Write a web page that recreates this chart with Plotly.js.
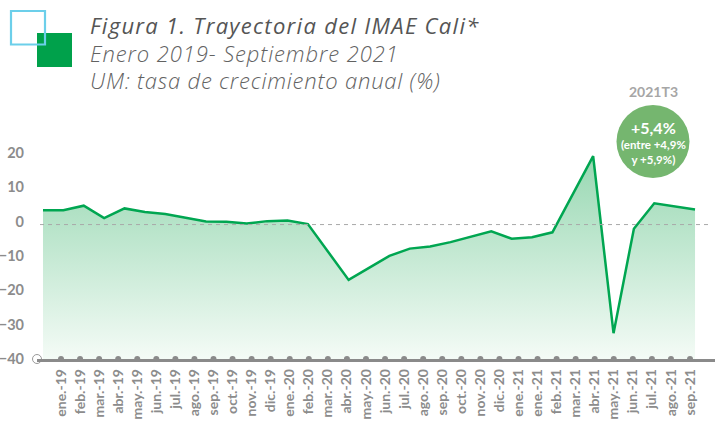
<!DOCTYPE html>
<html>
<head>
<meta charset="utf-8">
<script src="https://cdn.plot.ly/plotly-3.0.1.min.js"></script>
<style>
  html, body { margin: 0; padding: 0; background: #ffffff; }
  #chart { width: 715px; height: 428px; }
</style>
</head>
<body>
<div id="chart"></div>
<script>
// ---- Data ----
const months = ["ene-19","feb-19","mar-19","abr-19","may-19","jun-19","jul-19","ago-19","sep-19","oct-19","nov-19","dic-19",
                "ene-20","feb-20","mar-20","abr-20","may-20","jun-20","jul-20","ago-20","sep-20","oct-20","nov-20","dic-20",
                "ene-21","feb-21","mar-21","abr-21","may-21","jun-21","jul-21","ago-21","sep-21"];
const imae = [3.25, 3.25, 4.6, 1.0, 3.8, 2.75, 2.2, 1.1, 0.0, -0.1, -0.6, 0.1,
              0.3, -0.75, -8.9, -17.0, -13.5, -10.0, -7.9, -7.3, -6.0, -4.5, -2.85, -5.0,
              -4.6, -3.15, 7.8, 19.0, -32.5, -2.1, 5.3, 4.4, 3.5];
const tickLabels = ["ene.-19","feb.-19","mar.-19","abr.-19","may.-19","jun.-19","jul.-19","ago.-19","sep.-19","oct.-19","nov.-19","dic.-19",
                    "ene.-20","feb.-20","mar.-20","abr.-20","may.-20","jun.-20","jul.-20","ago.-20","sep.-20","oct.-20","nov.-20","dic.-20",
                    "ene.-21","ene.-21","feb.-21","mar.-21","abr.-21","may.-21","jun.-21","jul.-21","ago.-21","sep.-21"];
const yTicks = [-40, -30, -20, -10, 0, 10, 20];
const titleLines = ["Figura 1. Trayectoria del IMAE Cali*", "Enero 2019- Septiembre 2021", "UM: tasa de crecimiento anual (%)"];
const bubbleHeader = "2021T3";
const bubbleMain = "+5,4%";
const bubbleSub = ["(entre +4,9%", "y +5,9%)"];

// ---- Layout geometry (pixels) ----
const W = 715, H = 428;
const M = {l: 37, r: 0, t: 100, b: 69};
const PW = W - M.l - M.r, PH = H - M.t - M.b;
const px = x => (x - M.l) / PW;
const py = y => 1 - (y - M.t) / PH;
const yMin = -40, yMax = 35.33;
const dataRange = [-0.294, 32.98];
const labelRange = [-1.259, 34.31];
const refLine = -0.9;

const dataIdx = months.map((_, i) => i);
const labelIdx = tickLabels.map((_, i) => i);

const traces = [
  { // baseline for the area fill
    x: dataIdx, y: months.map(() => yMin), xaxis: 'x', yaxis: 'y',
    type: 'scatter', mode: 'lines', line: {width: 0, color: 'rgba(0,0,0,0)'},
    hoverinfo: 'skip', showlegend: false
  },
  {
    x: dataIdx, y: imae, text: months, xaxis: 'x', yaxis: 'y',
    type: 'scatter', mode: 'lines', fill: 'tonexty',
    fillgradient: {type: 'vertical', start: yMin, stop: 20,
                   colorscale: [[0, '#f4fbf6'], [1, '#96d7b1']]},
    line: {color: '#00a651', width: 2.5, shape: 'linear'},
    showlegend: false
  },
  { // category dots on the axis
    x: labelIdx, y: tickLabels.map(() => yMin), xaxis: 'x2', yaxis: 'y',
    type: 'scatter', mode: 'markers', cliponaxis: false,
    marker: {color: '#8a8a8a', size: 6}, hoverinfo: 'skip', showlegend: false
  },
  { // axis origin marker
    x: [labelRange[0]], y: [yMin], xaxis: 'x2', yaxis: 'y',
    type: 'scatter', mode: 'markers', cliponaxis: false,
    marker: {color: '#ffffff', size: 9, line: {color: '#9a9a9a', width: 1}},
    hoverinfo: 'skip', showlegend: false
  }
];

const tickFont = {family: 'Lato, "DejaVu Sans", sans-serif', size: 14, color: '#8c8c8c', weight: 'bold'};

const titleText =
  '<i><span style="font-size:22px;letter-spacing:1.3px">' + titleLines[0] + '</span></i><br>' +
  '<i><span style="font-size:22px;letter-spacing:0.9px;color:#626262;font-weight:300">' + titleLines[1] + '</span></i><br>' +
  '<i><span style="font-size:22px;letter-spacing:0.8px;color:#626262;font-weight:300">' + titleLines[2] + '</span></i>';

const layout = {
  width: W, height: H,
  margin: M,
  paper_bgcolor: '#ffffff', plot_bgcolor: 'rgba(0,0,0,0)',
  showlegend: false,
  xaxis: {range: dataRange, visible: false, fixedrange: true},
  xaxis2: {
    overlaying: 'x', anchor: 'y', side: 'bottom', range: labelRange,
    tickmode: 'array', tickvals: labelIdx, ticktext: tickLabels,
    tickangle: -90, tickfont: tickFont, ticks: '', ticklabelstandoff: 2,
    showline: true, linecolor: '#8a8a8a', linewidth: 2.5,
    showgrid: false, zeroline: false
  },
  yaxis: {
    range: [yMin, yMax], tickmode: 'array', tickvals: yTicks,
    tickfont: {family: 'Lato, "DejaVu Sans", sans-serif', size: 14.5, color: '#8c8c8c', weight: 'bold'},
    ticks: '', ticklabelstandoff: 12,
    showgrid: false, zeroline: false, showline: false
  },
  shapes: [
    {type: 'line', xref: 'paper', yref: 'y', x0: px(40), x1: px(712), y0: refLine, y1: refLine,
     line: {color: '#a8a8a8', width: 1, dash: '4px,4px'}},
    {type: 'rect', xref: 'paper', yref: 'paper', x0: px(37), x1: px(72), y0: py(33), y1: py(67),
     fillcolor: '#00a14b', line: {width: 0}, layer: 'above'},
    {type: 'rect', xref: 'paper', yref: 'paper', x0: px(11), x1: px(45), y0: py(11), y1: py(44.5),
     fillcolor: 'rgba(0,0,0,0)', line: {color: '#6ccfea', width: 2.2}, layer: 'above'},
    {type: 'circle', xref: 'paper', yref: 'paper', x0: px(616.5), x1: px(689.5), y0: py(105), y1: py(178),
     fillcolor: '#75b66f', line: {width: 0}, layer: 'above'}
  ],
  annotations: [
    {xref: 'paper', yref: 'paper', x: px(88), y: py(53), xanchor: 'left', yanchor: 'middle', showarrow: false,
     align: 'left', text: titleText,
     font: {family: '"Open Sans", Lato, sans-serif', size: 21.2, color: '#555555'}},
    {xref: 'paper', yref: 'paper', x: px(653), y: py(91), xanchor: 'center', yanchor: 'middle', showarrow: false,
     text: '<b>' + bubbleHeader + '</b>',
     font: {family: 'Lato, sans-serif', size: 14, color: '#a6a6a6'}},
    {xref: 'paper', yref: 'paper', x: px(653), y: py(141.5), xanchor: 'center', yanchor: 'middle', showarrow: false,
     align: 'center',
     text: '<b><span style="font-size:16px">' + bubbleMain + '</span></b><br><b>' + bubbleSub[0] + '</b><br><b>' + bubbleSub[1] + '</b>',
     font: {family: 'Lato, sans-serif', size: 11.5, color: '#ffffff'}}
  ]
};

Plotly.newPlot('chart', traces, layout, {displayModeBar: false, staticPlot: true});
</script>
</body>
</html>
